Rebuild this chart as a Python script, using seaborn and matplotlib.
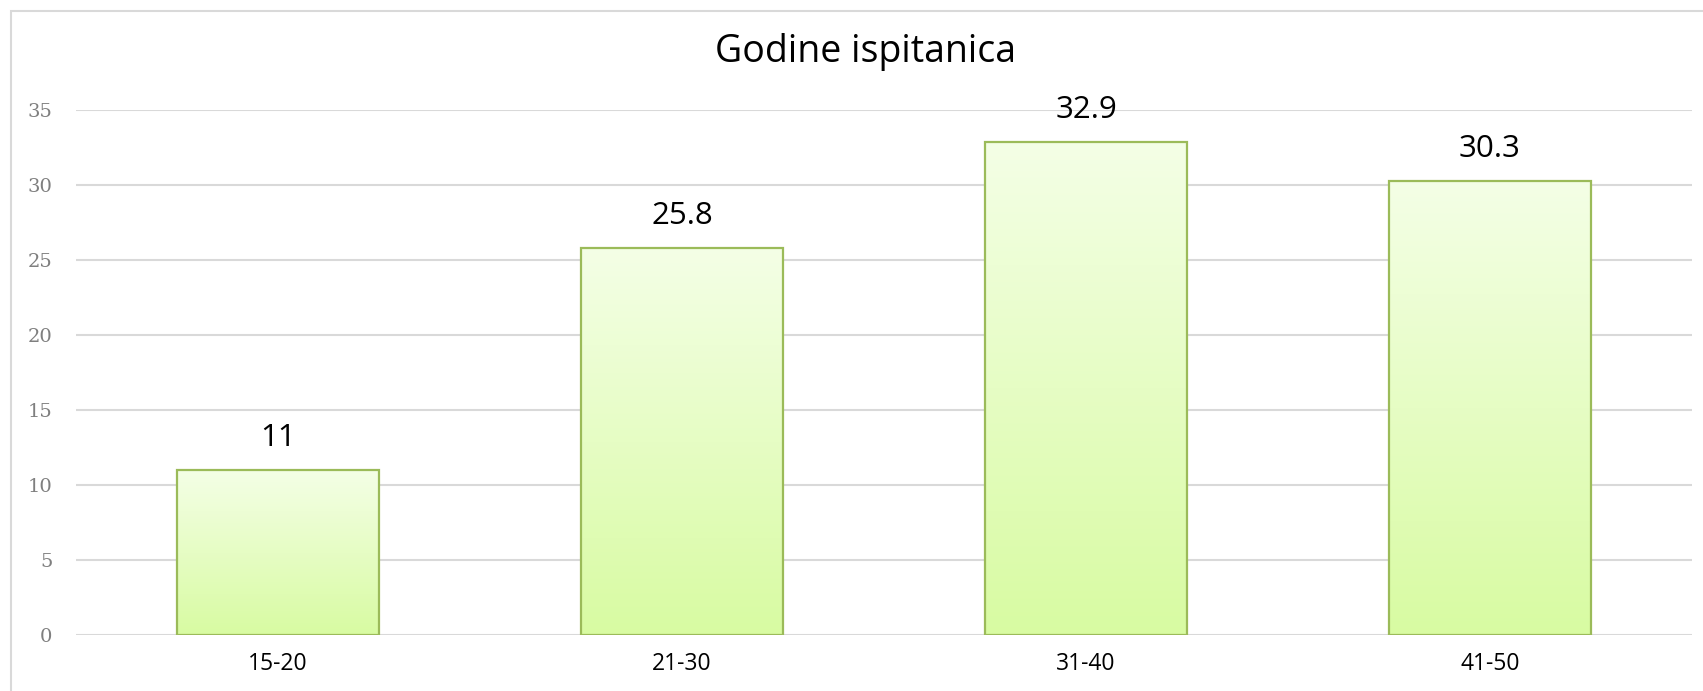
import numpy as np
import pandas as pd
import matplotlib
matplotlib.use("Agg")
import matplotlib.pyplot as plt
import seaborn as sns
from matplotlib.patches import Rectangle
from matplotlib.colors import LinearSegmentedColormap

# --- datos ---
grupos = ["15-20", "21-30", "31-40", "41-50"]
valores = [11, 25.8, 32.9, 30.3]
etiquetas = ["11", "25.8", "32.9", "30.3"]
titulo = "Godine ispitanica"

df = pd.DataFrame({"Godine": grupos, "Procenat": valores})

sns.set_style("white")
plt.rcParams["font.family"] = ["Open Sans", "DejaVu Sans"]

W_PX, H_PX = 1703, 691
fig = plt.figure(figsize=(W_PX / 100, H_PX / 100), dpi=100)
ax = fig.add_axes([76 / W_PX, 1 - 635 / H_PX, (1692 - 76) / W_PX, (635 - 110) / H_PX])

sns.barplot(data=df, x="Godine", y="Procenat", color="#E6FBC6", width=0.5,
            edgecolor="#9BBB59", linewidth=1.6, ax=ax, zorder=3)

# degradado vertical dentro de cada barra
cmap = LinearSegmentedColormap.from_list("verde", ["#D8FBA2", "#F4FFE6"])
grad = np.linspace(0, 1, 256).reshape(-1, 1)
for p in ax.patches:
    x0, y0 = p.get_x(), p.get_y()
    w, h = p.get_width(), p.get_height()
    ax.imshow(grad, cmap=cmap, origin="lower", aspect="auto",
              extent=[x0, x0 + w, y0, y0 + h], zorder=2.5)
    p.set_facecolor("none")

ax.set_xlim(-0.5, len(grupos) - 0.5)
ax.set_ylim(0, 35)
ax.set_yticks(np.arange(0, 36, 5))
ax.yaxis.grid(True, color="#D9D9D9", linewidth=1.5, zorder=0)
ax.set_axisbelow(True)
for s in ax.spines.values():
    s.set_visible(False)
ax.tick_params(axis="both", length=0)
ax.tick_params(axis="y", pad=17, labelsize=14, labelcolor="#7F7F7F")
ax.tick_params(axis="x", pad=12, labelsize=16.5, labelcolor="#000000")
for t in ax.get_yticklabels():
    t.set_fontfamily("DejaVu Serif")
ax.set_xlabel("")
ax.set_ylabel("")

for i, (v, lab) in enumerate(zip(valores, etiquetas)):
    ax.annotate(lab, (i, v), xytext=(0, 12), textcoords="offset points",
                ha="center", va="bottom", fontsize=22.5, color="#000000")

fig.text(865 / W_PX, 1 - 52 / H_PX, titulo, ha="center", va="center",
         fontsize=27, color="#000000")

# marco del gráfico
fig.add_artist(Rectangle((11 / W_PX, -0.2), 2, 1.2 - 11 / H_PX,
                         transform=fig.transFigure, fill=False,
                         edgecolor="#D9D9D9", linewidth=1.5))

fig.savefig("out.png", dpi=100)
